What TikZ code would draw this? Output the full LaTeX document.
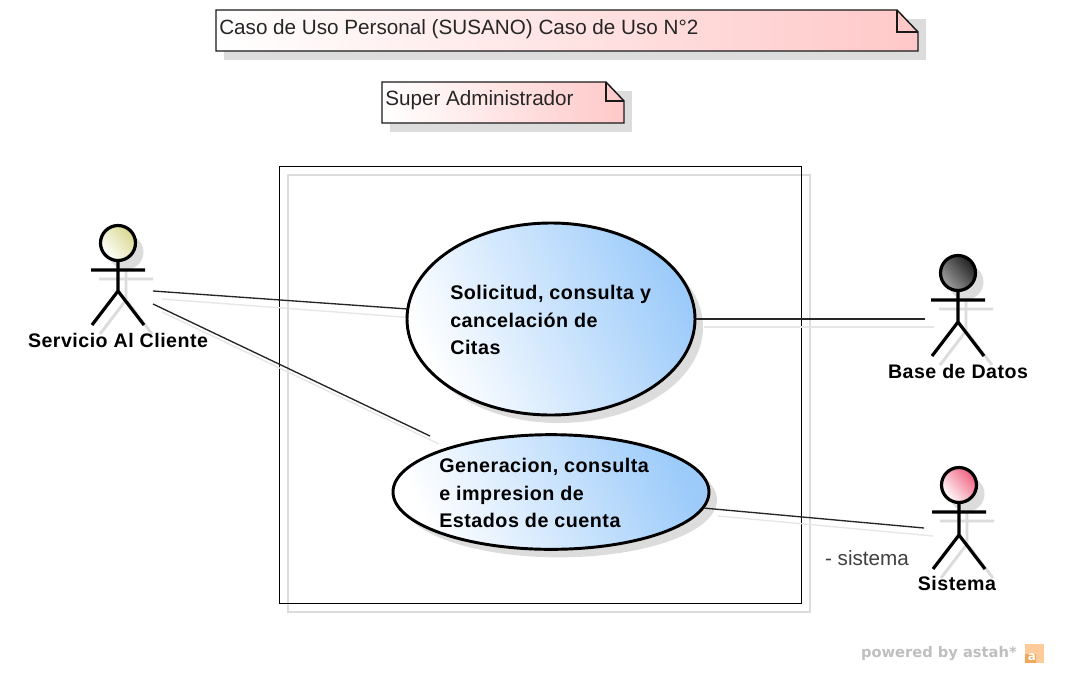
\documentclass[tikz,border=0pt]{standalone}
\usepackage{fontspec}
\setmainfont{Liberation Sans}
\newfontfamily\lblfont[LetterSpace=2.5]{Liberation Sans}
\newfontfamily\powfont{DejaVu Sans}
\usetikzlibrary{shapes.geometric}
\definecolor{shad}{HTML}{DCDCDC}
\definecolor{ushade}{HTML}{9CCBFA}
\definecolor{nshade}{HTML}{FFC8C8}
\definecolor{headY}{HTML}{D8D890}
\definecolor{headK}{HTML}{202020}
\definecolor{headKl}{HTML}{A0A0A0}
\definecolor{headR}{HTML}{F0607F}
\tikzset{
  x=0.75pt,y=-0.75pt,
  usecase/.style={draw=black,line width=2.2pt,ellipse,inner sep=0pt,left color=white,right color=ushade,shading angle=115},
  usecaseshadow/.style={fill=shad,ellipse,inner sep=0pt},
  conn/.style={line width=1pt,draw=black!85},
  connshadow/.style={line width=1pt,draw=shad!70},
  notebody/.style={draw=black!90,line width=1.1pt,left color=white,right color=nshade},
  notetext/.style={anchor=west,inner sep=0pt,font=\fontsize{15.5pt}{18pt}\selectfont,text=black!85},
  uctext/.style={anchor=west,align=left,inner sep=0pt,font=\lblfont\bfseries\fontsize{14.8pt}{20.8pt}\selectfont},
  actorlabel/.style={inner sep=0pt,font=\lblfont\bfseries\fontsize{14.7pt}{17pt}\selectfont},
  actorline/.style={line width=2.4pt,draw=black},
  actorshadow/.style={line width=2.2pt,draw=shad},
}
\newcommand{\actor}[6]{% x, y(head centre), light colour, dark colour, armdy, hipdy
  \begin{scope}[shift={(#1+8,#2+9)}]
    \fill[shad] (0,0) circle[radius=17.5*0.75pt];
    \draw[actorshadow] (0,0) -- (0,#6) (-27,#5) -- (27,#5) (-26,#6+34) -- (0,#6) -- (26,#6+34);
  \end{scope}
  \begin{scope}[shift={(#1,#2)}]
    \draw[actorline] (0,17) -- (0,#6) (-27,#5) -- (27,#5) (-26,#6+34) -- (0,#6) -- (26,#6+34);
    \shade[left color=#3,right color=#4,shading angle=130,draw=black,line width=2.4pt] (0,0) circle[radius=17.5*0.75pt];
  \end{scope}
}
\begin{document}
\begin{tikzpicture}
\useasboundingbox (0,0) rectangle (1078,676);
\fill[white] (0,0) rectangle (1078,676);

% notes
\fill[shad] (224,19) rectangle (926,60);
\path[notebody] (216,10) -- (897,10) -- (918,32) -- (918,51) -- (216,51) -- cycle;
\draw[line width=1.1pt,draw=black!90] (897,10) -- (897,32) -- (918,32);
\node[notetext] (n1) at (219,29) {Caso de Uso Personal (SUSANO) Caso de Uso N°2};

\fill[shad] (390,91) rectangle (632,132);
\path[notebody] (382,82) -- (606,82) -- (624,101) -- (624,123) -- (382,123) -- cycle;
\draw[line width=1.1pt,draw=black!90] (606,82) -- (606,101) -- (624,101);
\node[notetext] (n2) at (385,100) {Super Administrador};

% boundary
\draw[shad,line width=0.9pt] (288,175) rectangle (810,612);
\draw[black,line width=0.7pt] (279,166) rectangle (801,603);

% anchors for connector ends
\coordinate (sa) at (153,291);
\coordinate (sb) at (153,304);
\coordinate (sc) at (430,436);
\coordinate (bd) at (925,319);
\coordinate (si) at (924,528);

% shadows of use cases
\node[usecaseshadow,minimum width=216pt,minimum height=144pt] (e1s) at (559,327) {};
\node[usecaseshadow,minimum width=237pt,minimum height=86pt] (e2s) at (559,500) {};

% shadows of connectors
\draw[connshadow] (162,299) -- (416,318);
\draw[connshadow] (162,312) -- (439,444);
\draw[connshadow] (704,327) -- (934,327);
\draw[connshadow] (718,516) -- (933,536);

% use cases
\node[usecase,minimum width=216pt,minimum height=144pt] (e1) at (551,319) {};
\node[usecase,minimum width=237pt,minimum height=86pt] (e2) at (551,492) {};

% connectors
\draw[conn] (sa) -- (e1.176);
\draw[conn] (sb) -- (sc);
\draw[conn] (e1.east) -- (bd);
\draw[conn] (e2.354) -- (si);

\node[uctext] (t1) at (450,320) {Solicitud, consulta y\\cancelación de\\Citas};
\node[uctext] (t2) at (439,493) {Generacion, consulta\\e impresion de\\Estados de cuenta};

% actors
\actor{118}{243}{white}{headY}{27}{48}
\actor{958}{273}{headKl}{headK}{27}{49}
\actor{959}{485}{white}{headR}{27}{50}

\node[actorlabel] (a1) at (118,340) {Servicio Al Cliente};
\node[actorlabel] (a2) at (958,371) {Base de Datos};
\node[actorlabel] (a3) at (957,583) {Sistema};

\node[inner sep=0pt,font=\fontsize{15.5pt}{18pt}\selectfont,text=black!75] (lb) at (867,558) {- sistema};

% footer
\node[inner sep=0pt,anchor=east,font=\powfont\bfseries\fontsize{11pt}{13pt}\selectfont,text=black!25] (pw) at (1017,653) {powered by astah*};
\fill[orange!40] (1025,644) rectangle (1044,663);
\fill[orange!70!brown!70] (1025,654) rectangle (1036,663);
\node[inner sep=0pt,font=\powfont\bfseries\fontsize{9pt}{10pt}\selectfont,text=white] (ic) at (1032,657) {a};
\end{tikzpicture}
\end{document}
